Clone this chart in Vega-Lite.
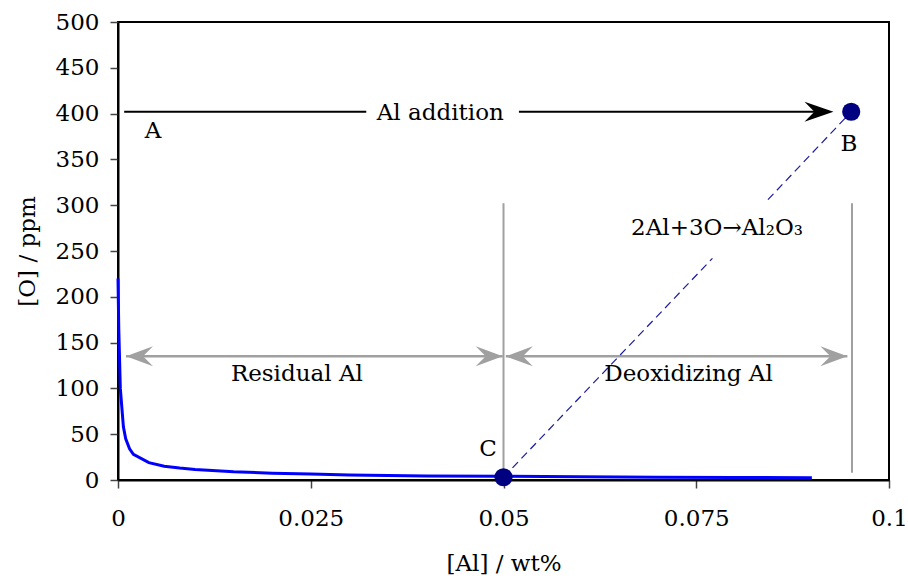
{
  "$schema": "https://vega.github.io/schema/vega-lite/v6.json",
  "width": 771,
  "height": 458,
  "autosize": {"type": "none"},
  "padding": {"left": 118, "top": 22, "right": 19, "bottom": 98},
  "background": "white",
  "config": {
    "font": "DejaVu Serif",
    "view": {"stroke": "black", "strokeWidth": 2},
    "axis": {
      "grid": false,
      "domainColor": "black",
      "domainWidth": 2,
      "tickColor": "#444444",
      "tickWidth": 1.5,
      "tickSize": 8,
      "labelFlush": false,
      "labelFont": "DejaVu Serif",
      "labelFontSize": 23,
      "labelColor": "black",
      "titleFont": "DejaVu Serif",
      "titleFontSize": 23,
      "titleFontWeight": "normal",
      "titleColor": "black"
    }
  },
  "datasets": {
    "curve": [
      {"al": 0, "o": 220},
      {"al": 0.0001, "o": 165},
      {"al": 0.0003, "o": 100},
      {"al": 0.0007, "o": 58},
      {"al": 0.001, "o": 45},
      {"al": 0.0015, "o": 34},
      {"al": 0.002, "o": 28},
      {"al": 0.004, "o": 19},
      {"al": 0.006, "o": 15},
      {"al": 0.008, "o": 13},
      {"al": 0.01, "o": 11.5},
      {"al": 0.015, "o": 9},
      {"al": 0.02, "o": 7.5},
      {"al": 0.025, "o": 6.5},
      {"al": 0.03, "o": 5.5},
      {"al": 0.04, "o": 4.5},
      {"al": 0.05, "o": 4},
      {"al": 0.06, "o": 3.5},
      {"al": 0.07, "o": 3},
      {"al": 0.08, "o": 2.8},
      {"al": 0.09, "o": 2.5}
    ],
    "vlines": [
      {"al": 0.05, "o1": 302, "o2": 3},
      {"al": 0.0952, "o1": 302, "o2": 8}
    ],
    "hlines": [
      {"al1": 0.00104, "al2": 0.0499, "o": 135},
      {"al1": 0.0503, "al2": 0.0946, "o": 135}
    ],
    "grayTips": [
      {"al": 0.00104, "o": 135, "dir": "left"},
      {"al": 0.0499, "o": 135, "dir": "right"},
      {"al": 0.0503, "o": 135, "dir": "left"},
      {"al": 0.0946, "o": 135, "dir": "right"}
    ],
    "blackLine": [
      {"al1": 0.0008, "al2": 0.0322, "o": 402},
      {"al1": 0.052, "al2": 0.091, "o": 402}
    ],
    "blackTip": [
      {"al": 0.0928, "o": 402}
    ],
    "dashed": [
      {"al1": 0.05, "o1": 3, "al2": 0.0771, "o2": 242},
      {"al1": 0.0843, "o1": 306, "al2": 0.0951, "o2": 402}
    ],
    "points": [
      {"al": 0.0951, "o": 402, "name": "B"},
      {"al": 0.05, "o": 3, "name": "C"}
    ],
    "labels": [
      {"al": 0.0418, "o": 401, "text": "Al addition"},
      {"al": 0.00455, "o": 381, "text": "A"},
      {"al": 0.0948, "o": 367, "text": "B"},
      {"al": 0.048, "o": 34, "text": "C"},
      {"al": 0.0232, "o": 116, "text": "Residual Al"},
      {"al": 0.074, "o": 116, "text": "Deoxidizing Al"},
      {"al": 0.0777, "o": 275, "text": "2Al+3O→Al₂O₃"}
    ]
  },
  "layer": [
    {
      "data": {"name": "curve"},
      "mark": {"type": "line", "color": "#0000FF", "strokeWidth": 3},
      "encoding": {
        "x": {"field": "al", "type": "quantitative", "scale": {"domain": [0, 0.1], "nice": false},
          "axis": {"values": [0, 0.025, 0.05, 0.075, 0.1], "format": "~g", "labelPadding": 19, "title": "[Al] / wt%", "titlePadding": 22}},
        "y": {"field": "o", "type": "quantitative", "scale": {"domain": [0, 500], "nice": false},
          "axis": {"values": [0, 50, 100, 150, 200, 250, 300, 350, 400, 450, 500], "labelPadding": 11, "title": "[O] / ppm", "titlePadding": 16}}
      }
    },
    {
      "data": {"name": "vlines"},
      "mark": {"type": "rule", "color": "#A0A0A0", "strokeWidth": 2},
      "encoding": {
        "x": {"field": "al", "type": "quantitative"},
        "y": {"field": "o1", "type": "quantitative"},
        "y2": {"field": "o2"}
      }
    },
    {
      "data": {"name": "hlines"},
      "mark": {"type": "rule", "color": "#A0A0A0", "strokeWidth": 2.5},
      "encoding": {
        "x": {"field": "al1", "type": "quantitative"},
        "x2": {"field": "al2"},
        "y": {"field": "o", "type": "quantitative"}
      }
    },
    {
      "data": {"name": "grayTips"},
      "transform": [{"filter": "datum.dir == 'left'"}],
      "mark": {"type": "point", "filled": true, "opacity": 1, "color": "#A0A0A0", "size": 2916, "shape": "M0,0 L1,-0.37 L0.63,0 L1,0.37 Z"},
      "encoding": {
        "x": {"field": "al", "type": "quantitative"},
        "y": {"field": "o", "type": "quantitative"}
      }
    },
    {
      "data": {"name": "grayTips"},
      "transform": [{"filter": "datum.dir == 'right'"}],
      "mark": {"type": "point", "filled": true, "opacity": 1, "color": "#A0A0A0", "size": 2916, "shape": "M0,0 L-1,-0.37 L-0.63,0 L-1,0.37 Z"},
      "encoding": {
        "x": {"field": "al", "type": "quantitative"},
        "y": {"field": "o", "type": "quantitative"}
      }
    },
    {
      "data": {"name": "blackLine"},
      "mark": {"type": "rule", "color": "black", "strokeWidth": 2},
      "encoding": {
        "x": {"field": "al1", "type": "quantitative"},
        "x2": {"field": "al2"},
        "y": {"field": "o", "type": "quantitative"}
      }
    },
    {
      "data": {"name": "blackTip"},
      "mark": {"type": "point", "filled": true, "opacity": 1, "color": "black", "size": 3364, "shape": "M0,0 L-1,-0.345 L-0.66,0 L-1,0.345 Z"},
      "encoding": {
        "x": {"field": "al", "type": "quantitative"},
        "y": {"field": "o", "type": "quantitative"}
      }
    },
    {
      "data": {"name": "dashed"},
      "mark": {"type": "rule", "color": "#1a1aa0", "strokeWidth": 1.2, "strokeDash": [8, 5]},
      "encoding": {
        "x": {"field": "al1", "type": "quantitative"},
        "y": {"field": "o1", "type": "quantitative"},
        "x2": {"field": "al2"},
        "y2": {"field": "o2"}
      }
    },
    {
      "data": {"name": "points"},
      "mark": {"type": "point", "filled": true, "opacity": 1, "color": "#000080", "size": 330, "shape": "circle"},
      "encoding": {
        "x": {"field": "al", "type": "quantitative"},
        "y": {"field": "o", "type": "quantitative"}
      }
    },
    {
      "data": {"name": "labels"},
      "mark": {"type": "text", "font": "DejaVu Serif", "fontSize": 23, "color": "black", "align": "center", "baseline": "middle"},
      "encoding": {
        "x": {"field": "al", "type": "quantitative"},
        "y": {"field": "o", "type": "quantitative"},
        "text": {"field": "text", "type": "nominal"}
      }
    }
  ]
}
